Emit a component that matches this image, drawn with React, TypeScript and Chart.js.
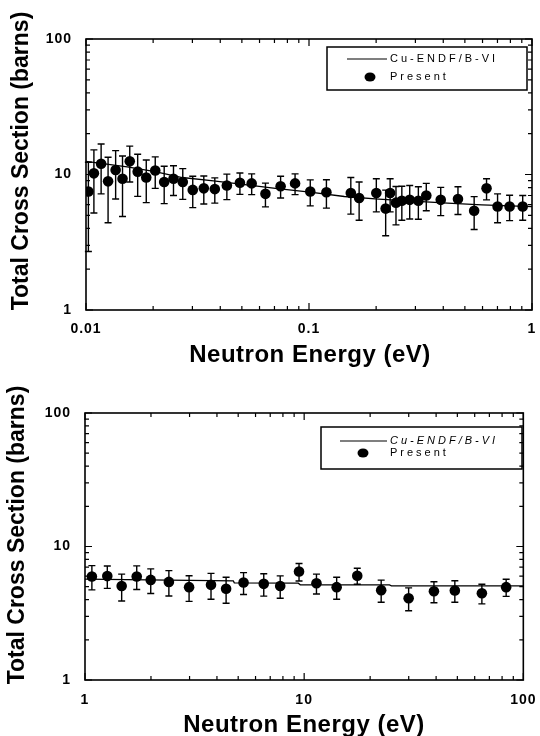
import { useEffect, useRef } from "react";
import { Chart, registerables } from "chart.js";

Chart.register(...registerables);

// ---------- Top panel: 0.01 – 1 eV ----------
const thermalEnergy = [0.01025, 0.01085, 0.01169, 0.01256, 0.01358, 0.01458, 0.01571, 0.01705, 0.01863, 0.02044, 0.02242, 0.02468, 0.02716, 0.03011, 0.03375, 0.03781, 0.04282, 0.049, 0.05533, 0.06378, 0.07459, 0.0866, 0.1013, 0.1197, 0.154, 0.1678, 0.2004, 0.2207, 0.2311, 0.2455, 0.2608, 0.2829, 0.3093, 0.3357, 0.3897, 0.4656, 0.5503, 0.6254, 0.7008, 0.7935, 0.9085];
const thermalSigma = [7.5, 10.2, 12.0, 8.9, 10.8, 9.3, 12.5, 10.5, 9.5, 10.7, 8.8, 9.3, 8.8, 7.7, 7.9, 7.8, 8.3, 8.7, 8.6, 7.2, 8.2, 8.6, 7.5, 7.4, 7.3, 6.7, 7.3, 5.6, 7.3, 6.2, 6.4, 6.5, 6.4, 7.0, 6.5, 6.6, 5.4, 7.9, 5.8, 5.8, 5.8];
const thermalError = [4.8, 5.0, 4.8, 4.5, 4.2, 4.4, 3.7, 3.6, 3.3, 2.8, 2.7, 2.3, 2.25, 2.0, 1.85, 1.65, 1.77, 1.57, 1.5, 1.43, 1.5, 1.5, 1.63, 1.75, 2.2, 2.1, 2.0, 2.07, 2.0, 1.95, 1.8, 1.8, 1.73, 1.6, 1.53, 1.53, 1.47, 1.4, 1.4, 1.23, 1.2];
const thermalEndfEnergy = [0.01, 0.0153, 0.0204, 0.027, 0.0373, 0.0495, 0.0707, 0.101, 0.144, 0.205, 0.293, 0.418, 0.596, 1.0];
const thermalEndfSigma = [12.5, 11.4, 10.5, 9.5, 8.96, 8.5, 7.9, 7.4, 6.88, 6.57, 6.35, 6.14, 5.97, 5.8];
const thermalXTicks = [0.01, 0.1, 1];

// ---------- Bottom panel: 1 – 100 eV ----------
const epiEnergy = [1.075, 1.264, 1.47, 1.722, 1.995, 2.414, 2.985, 3.758, 4.404, 5.29, 6.541, 7.775, 9.475, 11.38, 14.07, 17.47, 22.46, 29.97, 39.1, 48.7, 64.7, 83.5];
const epiSigma = [5.96, 6.0, 5.06, 5.96, 5.62, 5.43, 4.96, 5.16, 4.82, 5.37, 5.25, 5.06, 6.49, 5.31, 4.96, 6.04, 4.71, 4.1, 4.62, 4.68, 4.47, 4.96];
const epiError = [1.23, 1.14, 1.15, 1.2, 1.18, 1.17, 1.08, 1.13, 1.06, 1.0, 1.0, 0.96, 0.97, 0.9, 0.93, 0.83, 0.89, 0.8, 0.83, 0.86, 0.75, 0.73];
const epiEndfEnergy = [1, 2.4, 4.75, 4.8, 9.4, 9.6, 24.5, 25, 100];
const epiEndfSigma = [5.69, 5.6, 5.52, 5.34, 5.31, 5.17, 5.15, 5.07, 5.07];
const epiXTicks = [1, 10, 100];

const yTicks = [1, 10, 100];
const seriesLabels = ["Cu-ENDF/B-VI", "Present"];
const xTitle = "Neutron Energy (eV)";
const yTitle = "Total Cross Section (barns)";

const FAMILY = '"Liberation Sans", Arial, Helvetica, sans-serif';

const errorBarPlugin = {
  id: "errorBars",
  afterDatasetsDraw(chart: any) {
    const { ctx, scales } = chart;
    const x = scales.x;
    const y = scales.y;
    chart.data.datasets.forEach((ds: any) => {
      if (!ds.errors) return;
      ctx.save();
      ctx.strokeStyle = "#000";
      ctx.lineWidth = 1.4;
      ds.data.forEach((p: any, j: number) => {
        const e = ds.errors[j];
        const px = x.getPixelForValue(p.x);
        const top = y.getPixelForValue(p.y + e);
        const bot = y.getPixelForValue(Math.max(p.y - e, 1.01));
        ctx.beginPath();
        ctx.moveTo(px, top);
        ctx.lineTo(px, bot);
        ctx.moveTo(px - 3.5, top);
        ctx.lineTo(px + 3.5, top);
        ctx.moveTo(px - 3.5, bot);
        ctx.lineTo(px + 3.5, bot);
        ctx.stroke();
      });
      ctx.restore();
    });
  },
};

function logTicks(min: number, max: number) {
  const major: number[] = [];
  const minor: number[] = [];
  let d = Math.pow(10, Math.floor(Math.log10(min)));
  while (d <= max * 1.0001) {
    major.push(d);
    for (let k = 2; k <= 9; k++) {
      const v = k * d;
      if (v < max) minor.push(v);
    }
    d *= 10;
  }
  return { major, minor };
}

const framePlugin = {
  id: "frame",
  beforeDraw(chart: any) {
    chart.ctx.letterSpacing = "1px";
  },
  afterDraw(chart: any) {
    const { ctx, chartArea: a, scales } = chart;
    const x = scales.x;
    const y = scales.y;
    ctx.save();
    ctx.letterSpacing = "0px";
    ctx.strokeStyle = "#000";
    ctx.lineWidth = 1.6;
    ctx.strokeRect(a.left, a.top, a.right - a.left, a.bottom - a.top);
    ctx.lineWidth = 1.2;
    const xt = logTicks(x.min, x.max);
    const yt = logTicks(y.min, y.max);
    const draw = (vals: number[], len: number) => {
      vals.forEach((v) => {
        const px = x.getPixelForValue(v);
        ctx.beginPath();
        ctx.moveTo(px, a.bottom);
        ctx.lineTo(px, a.bottom - len);
        ctx.moveTo(px, a.top);
        ctx.lineTo(px, a.top + len);
        ctx.stroke();
      });
    };
    const drawY = (vals: number[], len: number) => {
      vals.forEach((v) => {
        const py = y.getPixelForValue(v);
        ctx.beginPath();
        ctx.moveTo(a.left, py);
        ctx.lineTo(a.left + len, py);
        ctx.moveTo(a.right, py);
        ctx.lineTo(a.right - len, py);
        ctx.stroke();
      });
    };
    draw(xt.major, 7);
    draw(xt.minor, 4);
    drawY(yt.major, 7);
    drawY(yt.minor, 4);
    ctx.restore();
    ctx.letterSpacing = "0px";
  },
};

const decorPlugin = {
  id: "decor",
  afterDraw(chart: any, _args: any, opts: any) {
    const { ctx } = chart;
    ctx.save();
    ctx.fillStyle = "#000";
    // axis titles
    ctx.letterSpacing = "0.5px";
    ctx.font = `bold 24px ${FAMILY}`;
    ctx.textAlign = "center";
    ctx.textBaseline = "middle";
    ctx.fillText(opts.xTitle, opts.xTitleX, opts.xTitleY);
    ctx.letterSpacing = "0px";
    ctx.save();
    ctx.translate(opts.yTitleX, opts.yTitleY);
    ctx.rotate(-Math.PI / 2);
    ctx.font = `bold 23px ${FAMILY}`;
    ctx.fillText(opts.yTitle, 0, 0);
    ctx.restore();

    // legend box
    const b = opts.legend;
    ctx.strokeStyle = "#000";
    ctx.lineWidth = 1.5;
    ctx.strokeRect(b.x, b.y, b.w, b.h);
    const lineDs = chart.data.datasets[0];
    const ptDs = chart.data.datasets[1];
    ctx.lineWidth = 1.2;
    ctx.beginPath();
    ctx.moveTo(b.lineX0, b.row1);
    ctx.lineTo(b.lineX1, b.row1);
    ctx.stroke();
    ctx.beginPath();
    ctx.ellipse(b.dotX, b.row2, 5.5, 4.5, 0, 0, Math.PI * 2);
    ctx.fill();
    ctx.letterSpacing = "3px";
    ctx.textAlign = "left";
    ctx.textBaseline = "middle";
    ctx.font = `${b.italic ? "italic " : ""}11px ${FAMILY}`;
    ctx.fillText(lineDs.label, b.textX, b.row1);
    ctx.font = `11px ${FAMILY}`;
    ctx.fillText(ptDs.label, b.textX, b.row2);
    ctx.restore();
    ctx.letterSpacing = "0px";
  },
};

type PanelProps = {
  energy: number[];
  sigma: number[];
  error: number[];
  endfE: number[];
  endfS: number[];
  xTicks: number[];
  layout: any;
};

function Panel(props: PanelProps) {
  const ref = useRef<HTMLCanvasElement | null>(null);
  useEffect(() => {
    if (!ref.current) return;
    const L = props.layout;
    const tickFont = { family: FAMILY, size: 14, weight: "bold" as const, lineHeight: 1 };
    const chart = new Chart(ref.current, {
      type: "scatter",
      data: {
        datasets: [
          {
            label: seriesLabels[0],
            data: props.endfE.map((e, i) => ({ x: e, y: props.endfS[i] })),
            showLine: true,
            borderColor: "#000",
            borderWidth: 1.3,
            pointRadius: 0,
            fill: false,
          } as any,
          {
            label: seriesLabels[1],
            data: props.energy.map((e, i) => ({ x: e, y: props.sigma[i] })),
            errors: props.error,
            pointRadius: 5.3,
            pointBackgroundColor: "#000",
            pointBorderColor: "#000",
            pointBorderWidth: 0,
            showLine: false,
          } as any,
        ],
      },
      options: {
        animation: false,
        responsive: false,
        maintainAspectRatio: false,
        layout: { padding: { top: L.padTop, right: L.padRight, left: 0, bottom: 0 } },
        plugins: {
          legend: { display: false },
          tooltip: { enabled: false },
          decor: {
            xTitle,
            yTitle,
            xTitleX: L.xTitleX,
            xTitleY: L.xTitleY,
            yTitleX: L.yTitleX,
            yTitleY: L.yTitleY,
            legend: L.legend,
          },
        } as any,
        scales: {
          x: {
            type: "logarithmic",
            min: props.xTicks[0],
            max: props.xTicks[props.xTicks.length - 1],
            afterBuildTicks: (s: any) => {
              s.ticks = props.xTicks.map((v) => ({ value: v, major: true }));
            },
            afterFit: (s: any) => {
              s.height = L.xHeight;
            },
            ticks: {
              color: "#000",
              font: tickFont,
              padding: L.xPad,
              maxRotation: 0,
              autoSkip: false,
              callback: (v: any) => String(v),
            },
            grid: { display: false },
            border: { display: false },
          },
          y: {
            type: "logarithmic",
            min: yTicks[0],
            max: yTicks[yTicks.length - 1],
            afterBuildTicks: (s: any) => {
              s.ticks = yTicks.map((v) => ({ value: v, major: true }));
            },
            afterFit: (s: any) => {
              s.width = L.yWidth;
            },
            ticks: {
              color: "#000",
              font: tickFont,
              padding: 6,
              autoSkip: false,
              callback: (v: any) => String(v),
            },
            grid: { display: false },
            border: { display: false },
          },
        },
      },
      plugins: [errorBarPlugin, framePlugin, decorPlugin],
    });
    return () => chart.destroy();
  }, []);
  return <canvas ref={ref} width={540} height={368} style={{ display: "block", width: 540, height: 368 }} />;
}

const topLayout = {
  padTop: 39,
  padRight: 8,
  yWidth: 86,
  xHeight: 58,
  xPad: 4,
  xTitleX: 310,
  xTitleY: 355,
  yTitleX: 22,
  yTitleY: 161,
  legend: { x: 327, y: 47, w: 200, h: 43, lineX0: 347, lineX1: 387, dotX: 370, textX: 390, row1: 59, row2: 77, italic: false },
};

const bottomLayout = {
  padTop: 45,
  padRight: 13,
  yWidth: 85,
  xHeight: 56,
  xPad: 5,
  xTitleX: 304,
  xTitleY: 357,
  yTitleX: 18,
  yTitleY: 167,
  legend: { x: 321, y: 59, w: 201, h: 42, lineX0: 340, lineX1: 387, dotX: 363, textX: 390, row1: 73, row2: 85, italic: true },
};

export default function App() {
  return (
    <div style={{ position: "absolute", left: 0, top: 0, width: 540, height: 736, background: "#fff" }}>
      <Panel
        energy={thermalEnergy}
        sigma={thermalSigma}
        error={thermalError}
        endfE={thermalEndfEnergy}
        endfS={thermalEndfSigma}
        xTicks={thermalXTicks}
        layout={topLayout}
      />
      <Panel
        energy={epiEnergy}
        sigma={epiSigma}
        error={epiError}
        endfE={epiEndfEnergy}
        endfS={epiEndfSigma}
        xTicks={epiXTicks}
        layout={bottomLayout}
      />
    </div>
  );
}
